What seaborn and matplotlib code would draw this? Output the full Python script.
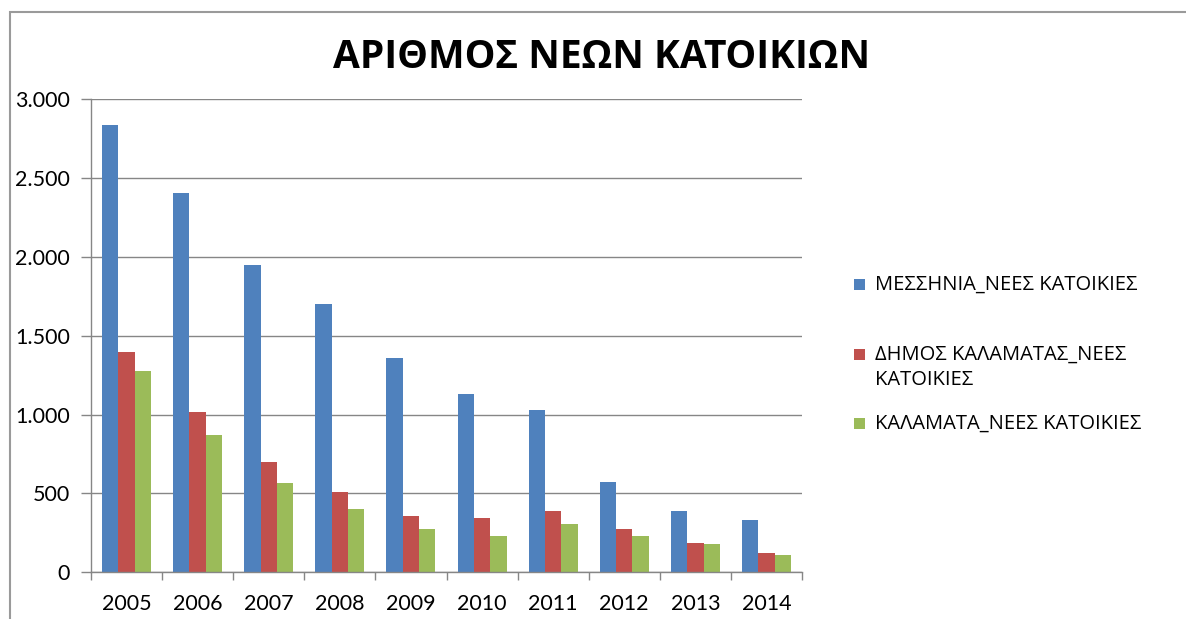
import matplotlib
matplotlib.use("Agg")
import matplotlib.pyplot as plt
from matplotlib.patches import Rectangle
from matplotlib.ticker import FuncFormatter, FixedLocator
import seaborn as sns
import pandas as pd
import numpy as np

years = ["2005", "2006", "2007", "2008", "2009", "2010", "2011", "2012", "2013", "2014"]
series_names = ["ΜΕΣΣΗΝΙΑ_ΝΕΕΣ ΚΑΤΟΙΚΙΕΣ", "ΔΗΜΟΣ ΚΑΛΑΜΑΤΑΣ_ΝΕΕΣ ΚΑΤΟΙΚΙΕΣ", "ΚΑΛΑΜΑΤΑ_ΝΕΕΣ ΚΑΤΟΙΚΙΕΣ"]
messinia = [2837, 2406, 1949, 1702, 1359, 1131, 1029, 573, 389, 332]
dimos_kalamatas = [1397, 1017, 700, 509, 357, 344, 389, 275, 186, 122]
kalamata = [1277, 871, 566, 401, 275, 230, 306, 230, 180, 110]
title = "ΑΡΙΘΜΟΣ ΝΕΩΝ ΚΑΤΟΙΚΙΩΝ"

colors = ["#4F81BD", "#C0504D", "#9BBB59"]

df = pd.DataFrame({
    "year": years * 3,
    "series": [series_names[0]] * 10 + [series_names[1]] * 10 + [series_names[2]] * 10,
    "value": messinia + dimos_kalamatas + kalamata,
})

sns.set_theme(style="white")
plt.rcParams["font.family"] = ["Lato", "Open Sans", "DejaVu Sans"]

W, H = 1186, 619
fig = plt.figure(figsize=(W / 100, H / 100), dpi=100)
ax = fig.add_axes([91 / W, 1 - 572.3 / H, (802 - 91) / W, (572.3 - 99.3) / H])

sns.barplot(data=df, x="year", y="value", hue="series", hue_order=series_names,
            palette=colors, width=0.69, saturation=1, legend=False, ax=ax,
            edgecolor="none", linewidth=0)

ax.set_ylim(0, 3000)
ax.set_xlim(-0.5, len(years) - 0.5)
ax.yaxis.set_major_locator(FixedLocator(np.arange(0, 3001, 500)))
ax.yaxis.set_major_formatter(FuncFormatter(lambda v, p: f"{v:,.0f}".replace(",", ".")))
ax.grid(axis="y", color="#868686", linewidth=1)
ax.set_axisbelow(True)
ax.set_xlabel("")
ax.set_ylabel("")

for s in ["top", "right"]:
    ax.spines[s].set_visible(False)
for s in ["left", "bottom"]:
    ax.spines[s].set_color("#868686")
    ax.spines[s].set_linewidth(1)

gray = "#868686"
ax.tick_params(axis="y", which="major", length=7, width=1, color=gray, pad=8,
               labelsize=15.5, labelcolor="black", left=True)
ax.set_xticks(np.arange(len(years)))
ax.set_xticklabels(years)
ax.set_xticks(np.arange(-0.5, len(years), 1.0), minor=True)
ax.tick_params(axis="x", which="major", length=0, pad=15.5, labelsize=15.5, labelcolor="black")
ax.tick_params(axis="x", which="minor", length=6, width=1, color=gray, bottom=True)

fig.text(602 / W, 1 - 57 / H, title, ha="center", va="center", fontsize=28,
         fontweight="bold", family=["Open Sans", "DejaVu Sans"], color="black")

# outer chart border
fig.patches.append(Rectangle((9.5 / W, -0.1), 1.2, 1 - 12 / H + 0.1, transform=fig.transFigure,
                             fill=False, edgecolor="#9a9a9a", linewidth=1.5, clip_on=False))

# legend
legend_labels = ["ΜΕΣΣΗΝΙΑ_ΝΕΕΣ ΚΑΤΟΙΚΙΕΣ", "ΔΗΜΟΣ ΚΑΛΑΜΑΤΑΣ_ΝΕΕΣ\nΚΑΤΟΙΚΙΕΣ", "ΚΑΛΑΜΑΤΑ_ΝΕΕΣ ΚΑΤΟΙΚΙΕΣ"]
ys = [284, 354, 423]
for lab, c, y in zip(legend_labels, colors, ys):
    fig.patches.append(Rectangle((854 / W, 1 - (y + 5.5) / H), 11 / W, 11 / H,
                                 transform=fig.transFigure, facecolor=c, edgecolor="none"))
    fig.text(875 / W, 1 - (y - 9.5) / H, lab, ha="left", va="top", fontsize=14.5,
             family=["Open Sans", "DejaVu Sans"], color="black", linespacing=1.35)

fig.savefig("out.png", dpi=100)
